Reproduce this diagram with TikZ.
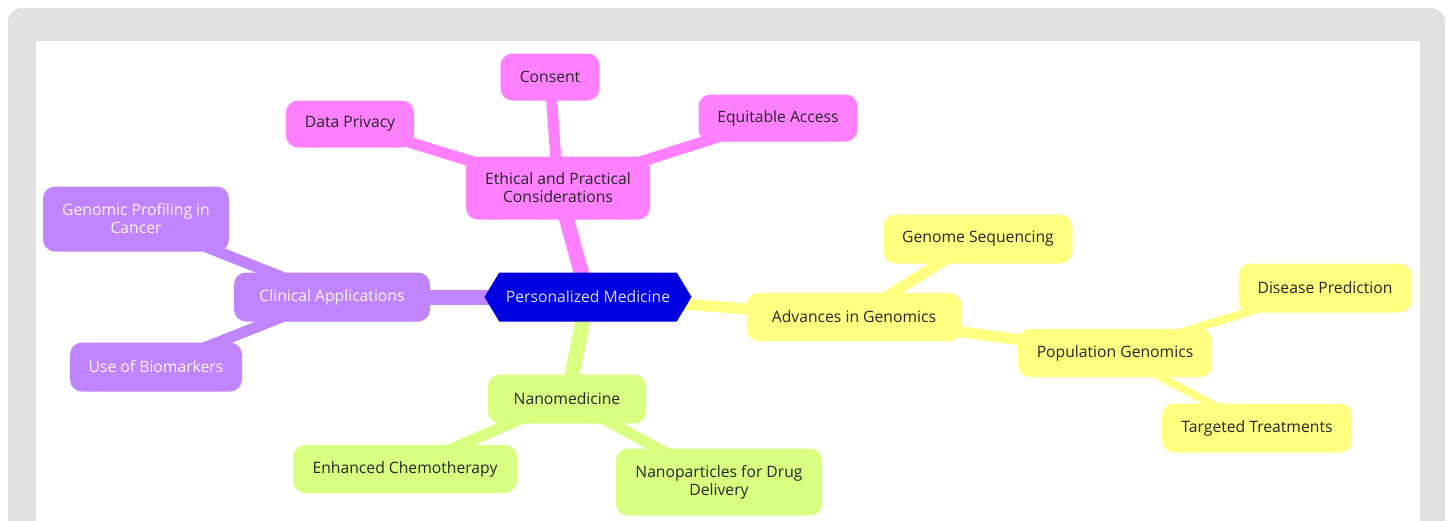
\documentclass[tikz,border=0pt]{standalone}
\usepackage{fontspec}
\setmainfont{Open Sans}
\usetikzlibrary{shapes.symbols,backgrounds}

\definecolor{frame}{HTML}{E0E0E0}
\definecolor{rootblue}{HTML}{0000E0}
\definecolor{roottext}{HTML}{DDDDFF}
\definecolor{pink}{HTML}{FF80FF}
\definecolor{violet}{HTML}{C184FF}
\definecolor{lime}{HTML}{D9FF80}
\definecolor{lemon}{HTML}{FFFF80}
\definecolor{ink}{HTML}{262626}

\tikzset{
  box/.style={rounded corners=12pt, inner sep=0pt, align=center, text=ink,
    font=\fontsize{15.7}{18}\selectfont},
  pinkbox/.style={box, fill=pink},
  violetbox/.style={box, fill=violet, text=white!92!violet},
  limebox/.style={box, fill=lime},
  lemonbox/.style={box, fill=lemon},
  rootbox/.style={signal, signal to=east and west, signal pointer angle=118,
    fill=rootblue, text=roottext, inner sep=0pt,
    font=\fontsize{15.7}{18}\selectfont},
  sz/.style 2 args={minimum width=#1pt, minimum height=#2pt},
  trunk/.style={line width=15pt},
  branch/.style={line width=11pt},
  twig/.style={line width=8pt},
}

\begin{document}
\begin{tikzpicture}[x=1pt,y=-1pt]
  \useasboundingbox (0,0) rectangle (1453,520);

  % root
  \node[rootbox, sz={207}{49}] (root) at (588,297) {Personalized Medicine};

  % ethics branch
  \node[pinkbox, sz={184}{63}] (ethics) at (558,188) {Ethical and Practical\\Considerations};
  \node[pinkbox, sz={99}{47}] (consent) at (550,77) {Consent};
  \node[pinkbox, sz={128}{47}] (privacy) at (350,124) {Data Privacy};
  \node[pinkbox, sz={159}{47}] (access) at (778,118) {Equitable Access};

  % clinical branch
  \node[violetbox, sz={196}{49}] (clinical) at (332,297) {Clinical Applications};
  \node[violetbox, sz={186}{65}] (profiling) at (136,219) {Genomic Profiling in\\Cancer};
  \node[violetbox, sz={172}{49}] (biomarkers) at (156,367) {Use of Biomarkers};

  % nanomedicine branch
  \node[limebox, sz={158}{49}] (nano) at (567,399) {Nanomedicine};
  \node[limebox, sz={224}{48}] (chemo) at (405,469) {Enhanced Chemotherapy};
  \node[limebox, sz={206}{67}] (particles) at (719,482) {Nanoparticles for Drug\\Delivery};

  % genomics branch
  \node[lemonbox, sz={215}{48}] (advances) at (854,317) {Advances in Genomics};
  \node[lemonbox, sz={189}{49}] (sequencing) at (978,239) {Genome Sequencing};
  \node[lemonbox, sz={194}{48}] (population) at (1115,353) {Population Genomics};
  \node[lemonbox, sz={173}{49}] (disease) at (1325,288) {Disease Prediction};
  \node[lemonbox, sz={190}{49}] (targeted) at (1257,428) {Targeted Treatments};

  % frame, panel and connectors behind the nodes
  \begin{scope}[on background layer]
    \fill[frame, rounded corners=14pt] (8,8) rectangle (1445,560);
    \fill[white] (36,41) rectangle (1420,560);
    \draw[pink, trunk] (root.center) -- (ethics.center);
    \draw[pink, branch] (ethics.center) -- (consent.center);
    \draw[pink, branch] (ethics.center) -- (privacy.center);
    \draw[pink, branch] (ethics.center) -- (access.center);
    \draw[violet, trunk] (root.center) -- (clinical.center);
    \draw[violet, branch] (clinical.center) -- (profiling.center);
    \draw[violet, branch] (clinical.center) -- (biomarkers.center);
    \draw[lime, trunk] (root.center) -- (nano.center);
    \draw[lime, branch] (nano.center) -- (chemo.center);
    \draw[lime, branch] (nano.center) -- (particles.center);
    \draw[lemon, branch] (root.center) -- (advances.center);
    \draw[lemon, branch] (advances.center) -- (sequencing.center);
    \draw[lemon, branch] (advances.center) -- (population.center);
    \draw[lemon, twig] (population.center) -- (disease.center);
    \draw[lemon, twig] (population.center) -- (targeted.center);
  \end{scope}
\end{tikzpicture}
\end{document}
